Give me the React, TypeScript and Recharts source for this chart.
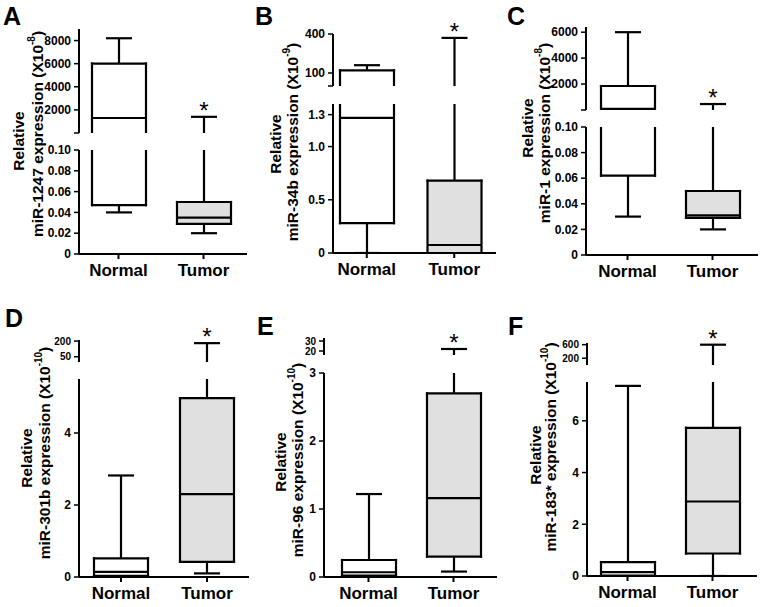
import React from 'react';
import { BarChart, Bar, XAxis, YAxis, LabelList, Cell } from 'recharts';

const groups = ['Normal', 'Tumor'];
const marks = ['', '*'];

// box stats per group: [min, q1, median, q3, max]
const mir1247Normal = [0.04, 0.047, 1300, 6000, 8200];
const mir1247Tumor = [0.02, 0.029, 0.035, 0.05, 1400];
const mir34bNormal = [0, 0.28, 1.27, 120, 160];
const mir34bTumor = [0, 0, 0.075, 0.68, 370];
const mir1Normal = [0.03, 0.062, 80, 1850, 6000];
const mir1Tumor = [0.02, 0.029, 0.031, 0.05, 460];
const mir301bNormal = [0, 0.03, 0.14, 0.52, 2.82];
const mir301bTumor = [0.1, 0.42, 2.3, 4.97, 180];
const mir96Normal = [0, 0.02, 0.07, 0.25, 1.22];
const mir96Tumor = [0.08, 0.3, 1.16, 2.7, 22];
const mir183Normal = [0, 0.02, 0.15, 0.54, 7.35];
const mir183Tumor = [0, 0.87, 2.88, 5.73, 600];

// broken y axes: upper and lower segment ticks
const ticksAUp = [0, 2000, 4000, 6000, 8000];
const ticksALow = [0, 0.02, 0.04, 0.06, 0.08, 0.1];
const ticksBUp = [0, 100, 400];
const ticksBLow = [0, 0.5, 1.0, 1.3];
const ticksCUp = [0, 2000, 4000, 6000];
const ticksCLow = [0, 0.02, 0.04, 0.06, 0.08, 0.1];
const ticksDUp = [50, 200];
const ticksDLow = [0, 2, 4];
const ticksEUp = [20, 30];
const ticksELow = [0, 1, 2, 3];
const ticksFUp = [200, 600];
const ticksFLow = [0, 2, 4, 6];

const boxFill = ['#ffffff', '#e0e0e0'];
const YW = 60;
const SW = 2.2;
const FONT = '"Liberation Sans", Arial, sans-serif';

const fmtUp = (v: number) => (v === 0 ? '' : String(v));
const fmt2 = (v: number) => (v === 0 ? '0' : v.toFixed(2));
const fmt1 = (v: number) => (v === 0 ? '0' : v.toFixed(1));
const fmtInt = (v: number) => String(v);

type Seg = {
  top: number;
  bottom: number;
  domain: [number, number];
  ticks: number[];
  fmt: (v: number) => string;
  size: number;
};

function Whisker(p: any) {
  const { x, y, width, height, payload, lo, hi } = p;
  const mn = payload.s[0];
  const mx = payload.s[4];
  if (mx < lo || mn > hi) return null;
  const cx = x + width / 2;
  const top = mx > hi ? y - 600 : y;
  const bot = mn < lo ? y + height + 600 : y + height;
  return (
    <g stroke="#000" strokeWidth={SW}>
      <line x1={cx} x2={cx} y1={top} y2={bot} />
      {mx <= hi && <line x1={x} x2={x + width} y1={y} y2={y} />}
      {mn >= lo && <line x1={x} x2={x + width} y1={y + height} y2={y + height} />}
    </g>
  );
}

function BoxShape(p: any) {
  const { x, y, width, height, payload, lo, hi, fill } = p;
  const q1 = payload.s[1];
  const q3 = payload.s[3];
  if (q3 < lo || q1 > hi) return null;
  const top = q3 > hi ? y - 600 : y;
  const bot = q1 < lo ? y + height + 600 : y + height;
  return (
    <g>
      <rect x={x} y={top} width={width} height={bot - top} fill={fill} />
      <g stroke="#000" strokeWidth={SW} strokeLinecap="square">
        <line x1={x} x2={x} y1={top} y2={bot} />
        <line x1={x + width} x2={x + width} y1={top} y2={bot} />
        {q3 <= hi && <line x1={x} x2={x + width} y1={y} y2={y} />}
        {q1 >= lo && <line x1={x} x2={x + width} y1={y + height} y2={y + height} />}
      </g>
    </g>
  );
}

function Median(p: any) {
  const { x, y, width, payload, lo, hi } = p;
  const m = payload.s[2];
  if (m < lo || m > hi) return null;
  return <line x1={x} x2={x + width} y1={y} y2={y} stroke="#000" strokeWidth={SW} />;
}

type PanelProps = {
  normal: number[];
  tumor: number[];
  x0: number;
  x1: number;
  pad: { left: number; right: number };
  up: Seg;
  low: Seg;
};

function Panel({ normal, tumor, x0, x1, pad, up, low }: PanelProps) {
  const data = groups.map((name, i) => {
    const s = i === 0 ? normal : tumor;
    return { name, s, whisker: [s[0], s[4]], box: [s[1], s[3]], median: [s[1], s[2]], sig: marks[i] };
  });
  const cut = low.domain[1];

  const seg = (g: Seg, lo: number, hi: number, isLower: boolean) => {
    const mt = isLower ? 10 : 34;
    const mb = isLower ? 0 : 2;
    const xh = isLower ? 40 : 0;
    const h = g.bottom - g.top;
    const W = YW + (x1 - x0) + 6;
    const H = mt + h + mb + xh;
    return (
      <div style={{ position: 'absolute', left: x0 - YW, top: g.top - mt }}>
        <BarChart width={W} height={H} data={data} margin={{ top: mt, right: 6, bottom: mb, left: 0 }}>
          <XAxis
            xAxisId="box"
            dataKey="name"
            hide={!isLower}
            padding={pad}
            height={xh}
            axisLine={{ stroke: '#000', strokeWidth: 2 }}
            tickLine={{ stroke: '#000', strokeWidth: 2 }}
            tickSize={5}
            tickMargin={5}
            tick={{ fill: '#000', fontSize: 17, fontWeight: 700 }}
          />
          <XAxis xAxisId="wh" dataKey="name" hide padding={pad} />
          <XAxis xAxisId="md" dataKey="name" hide padding={pad} />
          <YAxis
            type="number"
            domain={g.domain}
            ticks={g.ticks}
            allowDataOverflow
            interval={0}
            width={YW}
            tickFormatter={g.fmt}
            axisLine={{ stroke: '#000', strokeWidth: 2 }}
            tickLine={{ stroke: '#000', strokeWidth: 1.5 }}
            tickSize={5}
            tickMargin={3}
            tick={{ fill: '#000', fontSize: g.size, fontWeight: 700 }}
          />
          <Bar
            xAxisId="wh"
            dataKey="whisker"
            barSize={26}
            isAnimationActive={false}
            shape={(p: any) => <Whisker {...p} lo={lo} hi={hi} />}
          >
            {!isLower && (
              <LabelList dataKey="sig" position="top" offset={-2} fill="#000" fontSize={24} />
            )}
          </Bar>
          <Bar
            xAxisId="box"
            dataKey="box"
            barSize={54}
            isAnimationActive={false}
            shape={(p: any) => <BoxShape {...p} lo={lo} hi={hi} />}
          >
            {data.map((d, i) => (
              <Cell key={d.name} fill={boxFill[i]} />
            ))}
          </Bar>
          <Bar
            xAxisId="md"
            dataKey="median"
            barSize={54}
            isAnimationActive={false}
            shape={(p: any) => <Median {...p} lo={lo} hi={hi} />}
          />
        </BarChart>
      </div>
    );
  };

  return (
    <>
      {seg(up, cut, up.domain[1], false)}
      {seg(low, low.domain[0], cut, true)}
    </>
  );
}

function Title({ x1, y1, x2, y2, name, exp }: { x1: number; y1: number; x2: number; y2: number; name: string; exp: string }) {
  return (
    <g fontSize={15.5} fontWeight={700} fill="#000">
      <text x={x1} y={y1} textAnchor="middle" dominantBaseline="central" transform={`rotate(-90 ${x1} ${y1})`}>
        Relative
      </text>
      <text x={x2} y={y2} textAnchor="middle" dominantBaseline="central" transform={`rotate(-90 ${x2} ${y2})`}>
        {name} expression (X10
        <tspan fontSize={10} dy={-6}>
          {exp}
        </tspan>
        <tspan dy={6}>)</tspan>
      </text>
    </g>
  );
}

export default function App() {
  return (
    <div
      style={{
        position: 'absolute',
        left: 0,
        top: 0,
        width: 762,
        height: 607,
        background: '#fff',
        fontFamily: FONT,
        overflow: 'hidden',
      }}
    >
      <svg width={762} height={607} style={{ position: 'absolute', left: 0, top: 0 }}>
        <g fontSize={25} fontWeight={700} fill="#000">
          <text x={3} y={25}>A</text>
          <text x={255} y={25}>B</text>
          <text x={507} y={25}>C</text>
          <text x={5} y={327}>D</text>
          <text x={257} y={335}>E</text>
          <text x={508} y={335}>F</text>
        </g>
        <Title x1={18} y1={141} x2={37} y2={134} name="miR-1247" exp="-8" />
        <Title x1={275} y1={144} x2={292} y2={142} name="miR-34b" exp="-9" />
        <Title x1={527} y1={128} x2={544} y2={133} name="miR-1" exp="-8" />
        <Title x1={26} y1={458} x2={44} y2={453} name="miR-301b" exp="-10" />
        <Title x1={280} y1={462} x2={297} y2={460} name="miR-96" exp="-10" />
        <Title x1={535} y1={455} x2={550} y2={447} name="miR-183*" exp="-10" />
      </svg>

      <Panel
        normal={mir1247Normal}
        tumor={mir1247Tumor}
        x0={79}
        x1={247}
        pad={{ left: -3, right: 1 }}
        up={{ top: 29, bottom: 133, domain: [0, 9000], ticks: ticksAUp, fmt: fmtUp, size: 12 }}
        low={{ top: 150, bottom: 254, domain: [0, 0.1], ticks: ticksALow, fmt: fmt2, size: 12 }}
      />
      <Panel
        normal={mir34bNormal}
        tumor={mir34bTumor}
        x0={333}
        x1={496}
        pad={{ left: -10, right: -2 }}
        up={{ top: 34, bottom: 86, domain: [0, 400], ticks: ticksBUp, fmt: fmtUp, size: 12 }}
        low={{ top: 104, bottom: 253, domain: [0, 1.4], ticks: ticksBLow, fmt: fmt1, size: 12 }}
      />
      <Panel
        normal={mir1Normal}
        tumor={mir1Tumor}
        x0={586}
        x1={758}
        pad={{ left: -1, right: 3 }}
        up={{ top: 27, bottom: 110, domain: [0, 6400], ticks: ticksCUp, fmt: fmtUp, size: 12 }}
        low={{ top: 127, bottom: 255, domain: [0, 0.1], ticks: ticksCLow, fmt: fmt2, size: 12 }}
      />
      <Panel
        normal={mir301bNormal}
        tumor={mir301bTumor}
        x0={79}
        x1={249}
        pad={{ left: -1, right: -1 }}
        up={{ top: 340, bottom: 362, domain: [0, 210], ticks: ticksDUp, fmt: fmtInt, size: 10 }}
        low={{ top: 379, bottom: 577, domain: [0, 5.5], ticks: ticksDLow, fmt: fmtInt, size: 12 }}
      />
      <Panel
        normal={mir96Normal}
        tumor={mir96Tumor}
        x0={324}
        x1={497}
        pad={{ left: 2, right: 1 }}
        up={{ top: 338, bottom: 355, domain: [16, 33], ticks: ticksEUp, fmt: fmtInt, size: 10 }}
        low={{ top: 373, bottom: 577, domain: [0, 3], ticks: ticksELow, fmt: fmtInt, size: 12 }}
      />
      <Panel
        normal={mir183Normal}
        tumor={mir183Tumor}
        x0={587}
        x1={757}
        pad={{ left: -2, right: 2 }}
        up={{ top: 343, bottom: 365, domain: [0, 650], ticks: ticksFUp, fmt: fmtInt, size: 10 }}
        low={{ top: 382, bottom: 576, domain: [0, 7.5], ticks: ticksFLow, fmt: fmtInt, size: 12 }}
      />
    </div>
  );
}
